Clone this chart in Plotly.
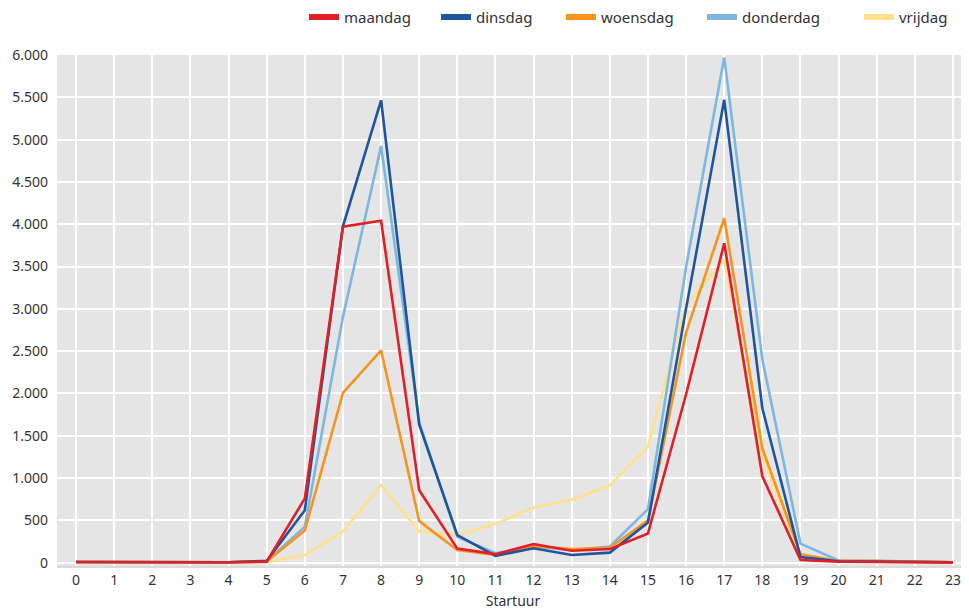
import plotly.graph_objects as go

# Startuur (hour of departure) 0..23
uren = list(range(24))

maandag = [8, 5, 5, 5, 5, 10, 760, 3970, 4040, 855, 165, 100, 220, 140, 160, 345,
           1990, 3775, 1020, 30, 10, 8, 6, 3]
dinsdag = [8, 5, 5, 5, 5, 20, 620, 3975, 5465, 1630, 325, 80, 170, 90, 118, 475,
           3005, 5470, 1825, 65, 15, 12, 10, 5]
woensdag = [8, 5, 5, 5, 5, 15, 380, 2005, 2510, 490, 150, 90, 195, 160, 175, 500,
            2720, 4070, 1350, 100, 20, 18, 12, 5]
donderdag = [8, 5, 5, 5, 5, 15, 425, 2905, 4925, 1660, 305, 110, 190, 150, 190, 632,
             3495, 5970, 2400, 225, 25, 22, 15, 5]
vrijdag = [8, 5, 5, 5, 5, 5, 90, 366, 918, 366, 327, 458, 651, 742, 912, 1375,
           3045, 3575, 1260, 80, 20, 18, 12, 5]

# draw order (bottom to top); legend order set by rank, plus legend item width
series = [
    ("vrijdag", vrijdag, "#FFE08C", 5, 92),
    ("donderdag", donderdag, "#7DB7DF", 4, 112),
    ("woensdag", woensdag, "#F7941E", 3, 96),
    ("dinsdag", dinsdag, "#1E559F", 2, 80),
    ("maandag", maandag, "#E21F26", 1, 87),
]

fig = go.Figure()
for naam, waarden, kleur, rank, breedte in series:
    fig.add_trace(go.Scatter(
        x=uren, y=waarden, name=naam, mode="lines",
        line=dict(color=kleur, width=2.6),
        showlegend=False,
    ))
    # legend-only entry with a thicker swatch
    fig.add_trace(go.Scatter(
        x=[None], y=[None], name=naam, mode="lines",
        line=dict(color=kleur, width=6),
        legendrank=rank, legendwidth=breedte,
    ))

# page body has an 8px margin, so the figure is sized to fit the window
fig.update_layout(
    width=961, height=602,
    margin=dict(l=49, r=0, t=47, b=44, autoexpand=False),
    paper_bgcolor="white",
    plot_bgcolor="#E5E5E5",
    separators=",.",
    font=dict(family="Noto Sans, Open Sans, sans-serif", size=14, color="#333333"),
    showlegend=True,
    legend=dict(
        orientation="h", xref="container", x=0.308, xanchor="left",
        yref="paper", y=1.074, yanchor="middle",
        font=dict(size=15, color="#333333"), bgcolor="rgba(0,0,0,0)",
    ),
    xaxis=dict(
        range=[-0.5, 23.42], tickmode="array", tickvals=uren,
        ticktext=[str(u) for u in uren],
        showgrid=True, gridcolor="white", gridwidth=2,
        zeroline=False, showline=True, linecolor="#DADADA", linewidth=2,
        ticks="", automargin=False,
        tickfont=dict(family="Liberation Sans Narrow, Noto Sans, sans-serif", size=14),
        title=dict(text="Startuur", font=dict(size=14), standoff=10),
    ),
    yaxis=dict(
        range=[-40, 6000], tickmode="linear", tick0=0, dtick=500,
        tickformat=",d",
        showgrid=True, gridcolor="white", gridwidth=2,
        zeroline=False, showline=False, automargin=False,
        ticks="", ticklabelstandoff=8, tickfont=dict(size=14),
    ),
)

fig.write_html("out.html")
